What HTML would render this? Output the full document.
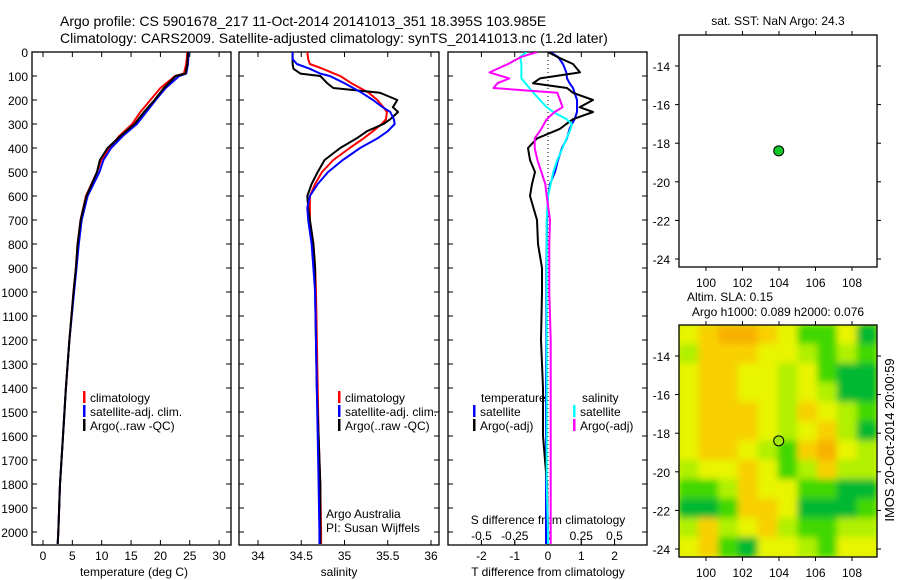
<!DOCTYPE html>
<html><head><meta charset="utf-8">
<style>
html,body{margin:0;padding:0;background:#fff;}
svg{display:block;font-family:"Liberation Sans",sans-serif;}
</style></head>
<body>
<svg id="fig" width="900" height="580" viewBox="0 0 900 580" xmlns="http://www.w3.org/2000/svg">
<defs>
<clipPath id="clip1"><rect x="32" y="52" width="199" height="493"/></clipPath>
<clipPath id="clip2"><rect x="239" y="52" width="200" height="493"/></clipPath>
<clipPath id="clip3"><rect x="448" y="52" width="199" height="493"/></clipPath>
<clipPath id="clipMap"><rect x="679" y="325" width="198" height="232"/></clipPath>
<filter id="blur" x="-5%" y="-5%" width="110%" height="110%"><feGaussianBlur stdDeviation="3.5" edgeMode="duplicate"/></filter>
</defs>
<text x="60" y="26" font-size="14">Argo profile: CS 5901678_217 11-Oct-2014 20141013_351 18.395S 103.985E</text>
<text x="60" y="43" font-size="14">Climatology: CARS2009. Satellite-adjusted climatology: synTS_20141013.nc (1.2d later)</text>
<g id="g1"></g>
<g id="g2"></g>
<g id="g3"></g>
<g id="g4"></g>
<g id="g5"></g>
<text transform="translate(894,440) rotate(-90)" font-size="13" text-anchor="middle">IMOS 20-Oct-2014 20:00:59</text>
</svg>
<script>
// ---- data ----
const tDepth = [0,50,90,100,150,200,250,300,350,400,450,500,600,700,800,900,1000,1200,1400,1600,1800,2000,2050];
const tClim  = [24.6,24.4,24.0,22.5,20.0,18.3,16.6,15.2,13.0,11.3,9.9,9.2,7.3,6.4,5.9,5.6,5.2,4.5,3.9,3.4,2.9,2.6,2.5];
const tSat   = [24.8,24.7,24.4,23.2,20.9,19.2,17.6,16.0,13.6,11.6,10.3,9.6,7.6,6.6,6.1,5.7,5.3,4.5,3.9,3.4,2.9,2.6,2.5];
const tArgo  = [24.7,24.6,24.3,22.6,20.6,19.0,17.2,15.6,13.2,11.0,9.7,9.2,7.4,6.4,5.9,5.6,5.2,4.5,3.9,3.4,2.9,2.6,2.5];

const sDepth = [0,30,50,70,90,100,130,150,170,200,230,250,280,300,330,360,400,450,500,550,600,650,700,800,900,1000,1400,1600,1800,2000,2050];
const sClim  = [34.57,34.58,34.60,34.75,34.88,34.95,35.08,35.18,35.28,35.38,35.45,35.49,35.48,35.43,35.33,35.22,35.06,34.87,34.74,34.66,34.60,34.60,34.60,34.64,34.66,34.67,34.69,34.70,34.72,34.73,34.73];
const sSat   = [34.40,34.40,34.45,34.60,34.72,34.83,35.00,35.10,35.20,35.33,35.44,35.53,35.57,35.58,35.50,35.38,35.18,34.98,34.81,34.69,34.60,34.57,34.58,34.62,34.64,34.66,34.68,34.69,34.70,34.71,34.71];
const sArgo  = [34.40,34.40,34.40,34.41,34.49,34.72,34.80,34.87,35.41,35.61,35.56,35.62,35.53,35.45,35.26,35.14,34.95,34.77,34.69,34.62,34.57,34.58,34.60,34.64,34.66,34.66,34.68,34.70,34.72,34.72,34.72];

const dDepth    = [0,20,50,85,110,130,150,170,200,230,250,280,300,320,360,400,450,500,550,600,700,800,900,1000,1200,1400,1600,1800,2000,2050];
const dTSat     = [0.06,0.3,0.45,0.55,0.57,0.65,0.75,0.8,0.87,0.87,0.87,0.8,0.72,0.65,0.57,0.42,0.3,0.21,0.06,0.0,-0.03,-0.04,-0.05,-0.05,-0.05,-0.06,-0.06,-0.06,-0.06,-0.06];
const dTArgo    = [0.0,0.27,0.75,0.96,-0.24,-0.45,0.57,0.75,1.35,0.95,1.35,0.75,0.55,0.36,-0.33,-0.6,-0.54,-0.39,-0.48,-0.54,-0.33,-0.3,-0.18,-0.18,-0.21,-0.15,-0.15,-0.03,0.0,0.0];
const dSSat     = [-0.16,-0.21,-0.2,-0.2,-0.2,-0.17,-0.14,-0.11,-0.06,-0.01,0.04,0.14,0.18,0.17,0.14,0.11,0.07,0.04,0.02,0.0,-0.01,-0.01,-0.01,-0.01,-0.01,-0.01,-0.01,-0.01,0.0,0.0];
const dSArgo    = [-0.08,-0.2,-0.3,-0.44,-0.29,-0.38,-0.41,0.07,0.09,0.11,0.05,-0.01,-0.03,-0.05,-0.1,-0.1,-0.08,-0.05,-0.02,-0.01,0.015,0.01,0.01,0.01,0.02,0.02,0.02,0.02,0.02,0.02];

const depthTicks = [0,100,200,300,400,500,600,700,800,900,1000,1100,1200,1300,1400,1500,1600,1700,1800,1900,2000];
const tempTicks = [0,5,10,15,20,25,30];
const salTicks = [34,34.5,35,35.5,36];
const salTickLabels = ["34","34.5","35","35.5","36"];
const dTTicks = [-2,-1,0,1,2];
const dSTicks = [-0.5,-0.25,0,0.25,0.5];
const dSTickLabels = ["-0.5","-0.25","0","0.25","0.5"];
const lonTicks = [100,102,104,106,108];
const latTicks = [-14,-16,-18,-20,-22,-24];
const argoLon = [103.985];
const argoLat = [-18.395];

// SLA heatmap values (0=dark green ... 5=orange), rows north->south
const slaRows = [
 [3,4,5,5,4,3,1,1,3,0],
 [2,4,4,4,3,3,2,1,2,1],
 [3,4,4,3,3,2,3,1,0,0],
 [3,4,4,3,3,2,3,2,0,0],
 [3,4,4,4,3,2,4,3,2,1],
 [3,4,4,4,3,2,3,4,2,0],
 [3,4,4,3,2,1,4,5,3,2],
 [2,3,3,4,3,1,2,4,2,2],
 [1,1,2,4,3,3,1,1,0,0],
 [0,0,1,4,4,3,0,0,0,1],
 [2,4,2,3,4,2,1,1,2,2],
 [3,4,1,0,3,3,2,1,3,3]
];
const slaColors = ["#00b830","#40d800","#b0f000","#e8f400","#f8d000","#f8b000"];

// ---- helpers ----
const NS = "http://www.w3.org/2000/svg";
function mk(tag, attrs, parent){const e=document.createElementNS(NS,tag);for(const k in attrs)e.setAttribute(k,attrs[k]);if(parent)parent.appendChild(e);return e;}
const top0=52, bot=545;
const yD = d => top0 + d*0.24;
const xT = t => 43 + t*5.87;
const xS = s => 258 + (s-34)*86.5;
const xDT = v => 548 + v*33.3;
const xDS = v => 548 + v*133;
const xLon = l => 706 + (l-100)*18.25;
const yLat1 = la => 66 + (-14-la)*19.3;
const yLat2 = la => 356 + (-14-la)*19.3;

function frame(g,x0,x1){
  const r=mk('rect',{x:x0,y:top0,width:x1-x0,height:bot-top0,fill:'none',stroke:'#000','stroke-width':1.3},g);
  
  
  depthTicks.forEach(d=>{
    mk('line',{x1:x0,x2:x0+5,y1:yD(d),y2:yD(d),stroke:'#000'},g);
    mk('line',{x1:x1-5,x2:x1,y1:yD(d),y2:yD(d),stroke:'#000'},g);
  });
}
function xticks(g,vals,labels,fx,ly){
  vals.forEach((v,i)=>{
    const x=fx(v);
    mk('line',{x1:x,x2:x,y1:bot,y2:bot-5,stroke:'#000'},g);
    mk('line',{x1:x,x2:x,y1:top0,y2:top0+5,stroke:'#000'},g);
    if(labels){const t=mk('text',{x:x,y:ly,'font-size':12,'text-anchor':'middle'},g);t.textContent=labels[i];
      
      }
  });
}
function line(g,xs,ds,fx,color,clip,name){
  const pts=xs.map((v,i)=>fx(v).toFixed(1)+','+yD(ds[i]).toFixed(1)).join(' ');
  const p=mk('polyline',{points:pts,fill:'none',stroke:color,'stroke-width':2,'clip-path':'url(#'+clip+')','stroke-linejoin':'round'},g);
  
  
}
function legend(g,x,y,color,label){
  mk('rect',{x:x,y:y-11,width:2.5,height:12,fill:color},g);
  const t=mk('text',{x:x+7,y:y,'font-size':12},g);t.textContent=label;
  
  
}
function txt(g,x,y,s,size,anchor,name){
  const t=mk('text',{x:x,y:y,'font-size':size,'text-anchor':anchor||'start'},g);t.textContent=s;
  
  
  return t;
}

// ---- panel 1 ----
const g1=document.getElementById('g1');
frame(g1,32,231);
depthTicks.forEach(d=>txt(g1,28,yD(d)+5,String(d),12,'end','y-tick-label'));
xticks(g1,tempTicks,tempTicks.map(String),xT,560);
txt(g1,134,576,'temperature (deg C)',12,'middle','x-axis-title');
line(g1,tClim,tDepth,xT,'#ff0000','clip1','temperature-climatology-line');
line(g1,tSat,tDepth,xT,'#0000ff','clip1','temperature-satellite-line');
line(g1,tArgo,tDepth,xT,'#000000','clip1','temperature-argo-line');
legend(g1,83,402,'#ff0000','climatology');
legend(g1,83,416,'#0000ff','satellite-adj. clim.');
legend(g1,83,430,'#000000','Argo(..raw -QC)');

// ---- panel 2 ----
const g2=document.getElementById('g2');
frame(g2,239,439);
xticks(g2,salTicks,salTickLabels,xS,560);
txt(g2,339,576,'salinity',12,'middle','x-axis-title');
line(g2,sClim,sDepth,xS,'#ff0000','clip2','salinity-climatology-line');
line(g2,sArgo,sDepth,xS,'#000000','clip2','salinity-argo-line');
line(g2,sSat,sDepth,xS,'#0000ff','clip2','salinity-satellite-line');
legend(g2,338,402,'#ff0000','climatology');
legend(g2,338,416,'#0000ff','satellite-adj. clim.');
legend(g2,338,430,'#000000','Argo(..raw -QC)');
txt(g2,326,518,'Argo Australia',12,'start','credit-line-1');
txt(g2,326,532,'PI: Susan Wijffels',12,'start','credit-line-2');

// ---- panel 3 ----
const g3=document.getElementById('g3');
frame(g3,448,647);
mk('line',{x1:548,x2:548,y1:top0,y2:bot,stroke:'#000','stroke-dasharray':'1,3'},g3);
xticks(g3,dTTicks,dTTicks.map(String),xDT,560);
dSTicks.forEach((v,i)=>{const x=xDS(v);mk('line',{x1:x,x2:x,y1:bot,y2:bot-5,stroke:'#000'},g3);
  txt(g3,x,540,dSTickLabels[i],12,'middle','s-tick-label');});
txt(g3,548,524,'S difference from climatology',12,'middle','s-axis-title');
txt(g3,548,576,'T difference from climatology',12,'middle','t-axis-title');
line(g3,dTSat,dDepth,xDT,'#0000ff','clip3','t-diff-satellite-line');
line(g3,dTArgo,dDepth,xDT,'#000000','clip3','t-diff-argo-line');
line(g3,dSSat,dDepth,xDS,'#00ffff','clip3','s-diff-satellite-line');
line(g3,dSArgo,dDepth,xDS,'#ff00ff','clip3','s-diff-argo-line');
txt(g3,481,402,'temperature',12,'start','legend-header-temperature');
legend(g3,473,416,'#0000ff','satellite');
legend(g3,473,430,'#000000','Argo(-adj)');
txt(g3,582,402,'salinity',12,'start','legend-header-salinity');
legend(g3,573,416,'#00ffff','satellite');
legend(g3,573,430,'#ff00ff','Argo(-adj)');

// ---- maps ----
function mapFrame(g,yTop,yLat){
  const r=mk('rect',{x:679,y:yTop,width:198,height:232,fill:'none',stroke:'#000','stroke-width':1.3},g);
  
  
  lonTicks.forEach(l=>{const x=xLon(l);
    mk('line',{x1:x,x2:x,y1:yTop,y2:yTop-4,stroke:'#000'},g);
    mk('line',{x1:x,x2:x,y1:yTop+232,y2:yTop+236,stroke:'#000'},g);
    txt(g,x,yTop+252,String(l),12,'middle','lon-tick-label');});
  latTicks.forEach(la=>{const y=yLat(la);
    mk('line',{x1:679,x2:675,y1:y,y2:y,stroke:'#000'},g);
    mk('line',{x1:877,x2:881,y1:y,y2:y,stroke:'#000'},g);
    txt(g,670,y+5,String(la),12,'end','lat-tick-label');});
}
const g4=document.getElementById('g4');
txt(g4,778,25,'sat. SST: NaN Argo: 24.3',12,'middle','sst-map-title');
mapFrame(g4,35,yLat1);
const c1=mk('circle',{cx:xLon(argoLon[0]),cy:yLat1(argoLat[0]),r:5,fill:'#10c828',stroke:'#000','stroke-width':1},g4);



const g5=document.getElementById('g5');
txt(g5,730,301,'Altim. SLA: 0.15',12,'middle','sla-map-title-1');
txt(g5,778,316,'Argo h1000: 0.089 h2000: 0.076',12,'middle','sla-map-title-2');
const hg=mk('g',{'clip-path':'url(#clipMap)'},g5);
mk('rect',{x:679,y:325,width:198,height:232,fill:'#d8f000'},hg);
const hb=mk('g',{filter:'url(#blur)'},hg);
const nR=slaRows.length,nC=slaRows[0].length,cw=198/nC,ch=232/nR;
slaRows.forEach((row,i)=>row.forEach((v,j)=>{
  const c=mk('rect',{x:679+j*cw-0.5,y:325+i*ch-0.5,width:cw+1,height:ch+1,fill:slaColors[v]},hb);
  
  
}));
mapFrame(g5,325,yLat2);
const c2=mk('circle',{cx:xLon(argoLon[0]),cy:yLat2(argoLat[0]),r:5,fill:'#a0e800',stroke:'#000','stroke-width':1},g5);


</script>
</body></html>
